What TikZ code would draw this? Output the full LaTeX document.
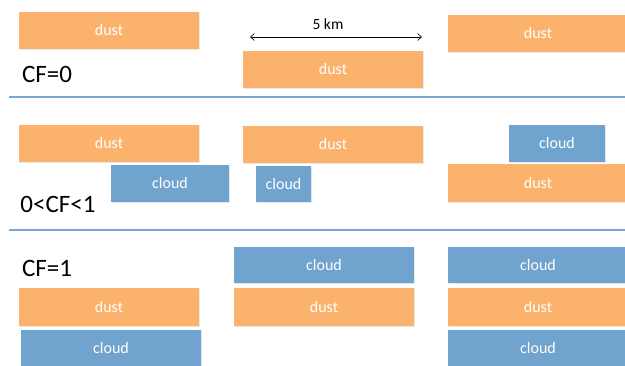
\documentclass[tikz,border=0pt]{standalone}
\usepackage{fontspec}
\setmainfont{Carlito}
\usetikzlibrary{arrows.meta,shadows}
\definecolor{dustc}{HTML}{FAB26C}
\definecolor{cloudc}{HTML}{71A3CF}
\definecolor{sepc}{HTML}{7DA5CD}
\tikzset{
  layer/.style={inner sep=0pt, text=white, font=\fontsize{16}{18}\selectfont,
    drop shadow={shadow xshift=0.6pt, shadow yshift=-0.8pt, opacity=0.18}},
  dustbox/.style={layer, fill=dustc},
  cloudbox/.style={layer, fill=cloudc},
  cflabel/.style={font=\fontsize{25}{27}\selectfont, text=black, inner sep=0pt},
  seprule/.style={draw=sepc, line width=1.8pt},
}
\begin{document}
\begin{tikzpicture}[x=1pt,y=-1pt]
\useasboundingbox (0,0) rectangle (625,366);
% row 1: CF=0
\node[dustbox, minimum width=180, minimum height=37] (d1) at (109,30.5) {dust};
\node[dustbox, minimum width=180, minimum height=37] (d2) at (333,69.5) {dust};
\node[dustbox, minimum width=180, minimum height=37] (d3) at (538,33.5) {dust};
\coordinate (aL) at (250,37);
\coordinate (aR) at (422,37);
\draw[line width=0.6pt, {Straight Barb[length=4pt,width=7pt]}-{Straight Barb[length=4pt,width=7pt]}] (aL) -- (aR);
\node[font=\fontsize{15.5}{17}\selectfont, inner sep=0pt] (km) at (328,24) {5 km};
\node[cflabel] (cf0) at (47,74) {CF=0};
\coordinate (s1a) at (9,97);
\coordinate (s1b) at (625,97);
\draw[seprule] (s1a) -- (s1b);
% row 2: 0<CF<1
\node[dustbox, minimum width=180, minimum height=37] (d4) at (109,143.5) {dust};
\node[cloudbox, minimum width=118, minimum height=37] (c1) at (170,183.5) {cloud};
\node[dustbox, minimum width=180, minimum height=37] (d5) at (333,144.5) {dust};
\node[cloudbox, minimum width=55, minimum height=36] (c2) at (283.5,184) {cloud};
\node[cloudbox, minimum width=96, minimum height=37] (c3) at (557,143.5) {cloud};
\node[dustbox, minimum width=180, minimum height=38] (d6) at (538,183) {dust};
\node[cflabel] (cfm) at (58,204) {0<CF<1};
\coordinate (s2a) at (9,230);
\coordinate (s2b) at (625,230);
\draw[seprule] (s2a) -- (s2b);
% row 3: CF=1
\node[cflabel] (cf1) at (47,268) {CF=1};
\node[cloudbox, minimum width=180, minimum height=36] (c4) at (324,265) {cloud};
\node[cloudbox, minimum width=180, minimum height=36] (c5) at (538,265) {cloud};
\node[dustbox, minimum width=180, minimum height=38] (d7) at (109,307) {dust};
\node[dustbox, minimum width=180, minimum height=38] (d8) at (324,307) {dust};
\node[dustbox, minimum width=180, minimum height=38] (d9) at (538,307) {dust};
\node[cloudbox, minimum width=180, minimum height=37] (c6) at (111,348.5) {cloud};
\node[cloudbox, minimum width=180, minimum height=37] (c7) at (538,348.5) {cloud};
\end{tikzpicture}
\end{document}
